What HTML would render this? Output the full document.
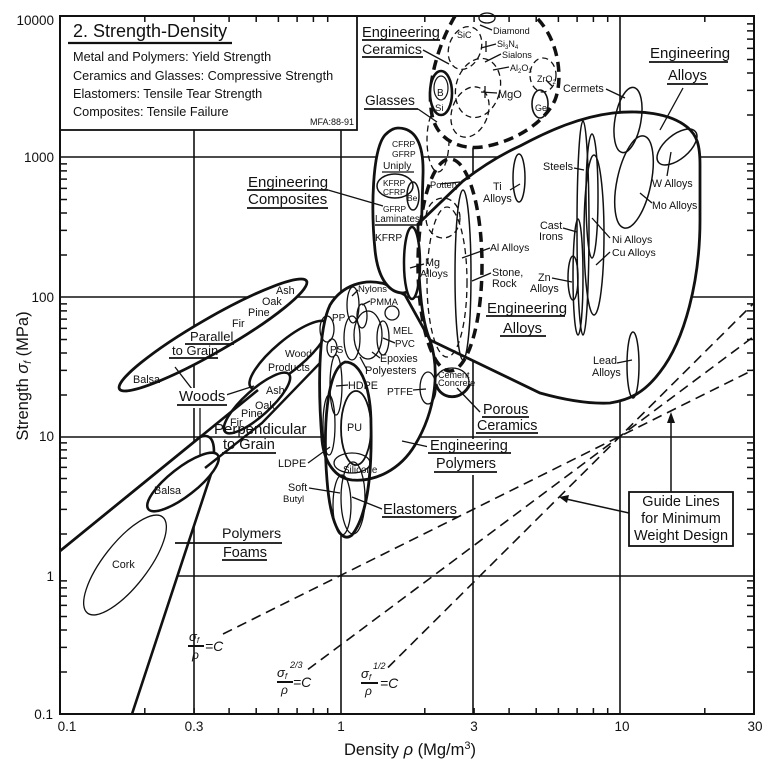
<!DOCTYPE html>
<html><head><meta charset="utf-8"><style>
html,body{margin:0;padding:0;background:#fff}
svg{display:block}
text{font-family:"Liberation Sans",Arial,sans-serif;fill:#111}
</style></head><body>
<svg width="773" height="771" viewBox="0 0 773 771" xmlns="http://www.w3.org/2000/svg">
<rect width="773" height="771" fill="#fff"/>
<g stroke="#111" fill="none">
 <!-- grid -->
 <g stroke-width="1.6">
  <line x1="194" y1="16" x2="194" y2="714"/>
  <line x1="341" y1="16" x2="341" y2="714"/>
  <line x1="473" y1="16" x2="473" y2="714"/>
  <line x1="620" y1="16" x2="620" y2="714"/>
  <line x1="60" y1="157" x2="754" y2="157"/>
  <line x1="60" y1="297" x2="754" y2="297"/>
  <line x1="60" y1="437" x2="754" y2="437"/>
  <line x1="60" y1="576" x2="754" y2="576"/>
 </g>
 <!-- title box -->
 <rect x="60" y="16" width="297" height="114" fill="#fff" stroke-width="1.8"/>

 <!-- foam envelope -->
 <path d="M60,551 L200,437 Q214,432 214,452 L213,468 L132,714 L60,714 Z" fill="#fff" stroke="none"/>
 <path d="M60,551 L200,437 Q214,432 214,452 L213,468 L132,714" stroke-width="2.6"/>
 <ellipse cx="125" cy="565" rx="61" ry="22" transform="rotate(-52 125 565)" stroke-width="1.3"/>

 <!-- woods -->
 <ellipse cx="213" cy="335" rx="108" ry="17" transform="rotate(-30 213 335)" fill="#fff" stroke-width="2.8"/>
 <ellipse cx="289" cy="355" rx="50" ry="15" transform="rotate(-40 289 355)" fill="#fff" stroke-width="2.5"/>
 <ellipse cx="257" cy="403" rx="43" ry="13" transform="rotate(-42 257 403)" fill="#fff" stroke-width="2.5"/>
 <ellipse cx="183" cy="482" rx="44" ry="14" transform="rotate(-38 183 482)" fill="#fff" stroke-width="2.5"/>
 <line x1="60" y1="551" x2="258" y2="390" stroke-width="2.6"/>
 <polyline points="205,468 262,423 320,363" stroke-width="2.4"/>
 <g stroke-width="1.3">
  <line x1="175" y1="367" x2="192" y2="389"/>
  <line x1="226" y1="395" x2="254" y2="386"/>
  <line x1="200" y1="407" x2="200" y2="456"/>
 </g>

 <!-- polymers & elastomers -->
 <path id="poly" d="M322,440 C318,390 318,330 330,305 C342,285 365,278 385,284 L405,295 L430,340 C440,370 436,410 415,445 C400,470 375,482 352,480 C335,478 324,462 322,440 Z" fill="#fff" stroke="none"/>
 <path d="M345,362 C362,362 371,390 371,425 C372,470 368,515 352,535 C340,545 330,520 327,480 C323,430 326,370 345,362 Z" fill="#fff" stroke="none"/>
 <path d="M322,440 C318,390 318,330 330,305 C342,285 365,278 385,284 L405,295 L430,340 C440,370 436,410 415,445 C400,470 375,482 352,480 C335,478 324,462 322,440 Z" stroke-width="2.8"/>
 <path d="M345,362 C362,362 371,390 371,425 C372,470 368,515 352,535 C340,545 330,520 327,480 C323,430 326,370 345,362 Z" stroke-width="2.8"/>
 <g stroke-width="1.3">
  <ellipse cx="356" cy="428" rx="15" ry="37" stroke-width="1.8"/>
  <ellipse cx="352" cy="463" rx="18" ry="10"/>
  <ellipse cx="329" cy="425" rx="6" ry="30"/>
  <ellipse cx="336" cy="385" rx="6" ry="30"/>
  <ellipse cx="342" cy="505" rx="9" ry="30"/>
  <ellipse cx="353" cy="498" rx="12" ry="36"/>
  <ellipse cx="327" cy="329" rx="7" ry="13"/>
  <ellipse cx="332" cy="348" rx="5" ry="9"/>
  <ellipse cx="353" cy="305" rx="6" ry="18"/>
  <ellipse cx="362" cy="316" rx="5" ry="12"/>
  <ellipse cx="368" cy="335" rx="14" ry="24"/>
  <ellipse cx="352" cy="338" rx="8" ry="22"/>
  <ellipse cx="383" cy="338" rx="6" ry="17"/>
  <circle cx="392" cy="313" r="7"/>
  <ellipse cx="428" cy="388" rx="8" ry="16"/>
  <ellipse cx="452" cy="382" rx="17" ry="14"/>
 </g>
 <path d="M436,384 C440,400 462,402 470,384" stroke-width="2.8"/>

 <!-- composites -->
 <path d="M398,128 C416,128 424,145 423,175 L421,240 C420,270 415,292 403,293 C390,293 378,280 375,250 C371,210 372,150 385,135 C390,130 394,128 398,128 Z" fill="#fff" stroke-width="2.8"/>
 <ellipse cx="395" cy="186" rx="18" ry="12" stroke-width="1.5"/>
 <ellipse cx="413" cy="196" rx="6" ry="14" stroke-width="1.5"/>
 <line x1="382" y1="172" x2="414" y2="172" stroke-width="1.3"/>

 <!-- alloys -->
 <path d="M418,224 L463,181 C480,168 500,155 520,146 C550,130 580,117 613,113 C640,110 670,113 687,127 C697,135 700,145 700,165 L700,220 C700,280 685,340 660,372 C645,392 630,400 610,403 C590,404 565,400 540,393 L430,340 C421,320 418,280 418,224 Z" fill="#fff" stroke-width="2.8"/>
 <ellipse cx="412" cy="263" rx="8" ry="36" fill="#fff" stroke-width="2.5"/>
 <g stroke-width="1.5">
  <ellipse cx="519" cy="178" rx="6" ry="24"/>
  <ellipse cx="583" cy="228" rx="6" ry="107"/>
  <ellipse cx="592" cy="196" rx="6" ry="62"/>
  <ellipse cx="594" cy="235" rx="10" ry="80"/>
  <ellipse cx="578" cy="277" rx="5" ry="58"/>
  <ellipse cx="573" cy="278" rx="5" ry="22"/>
  <ellipse cx="628" cy="120" rx="13" ry="33" transform="rotate(10 628 120)"/>
  <ellipse cx="634" cy="182" rx="17" ry="47" transform="rotate(12 634 182)"/>
  <ellipse cx="677" cy="147" rx="24" ry="12" transform="rotate(-40 677 147)"/>
  <ellipse cx="633" cy="365" rx="6" ry="33"/>
  <ellipse cx="463" cy="275" rx="8" ry="85"/>
 </g>
 <!-- porous ceramics -->
 <ellipse cx="450" cy="265" rx="32" ry="106" stroke-width="3.5" stroke-dasharray="10 6"/>
 <g stroke-width="1.3" stroke-dasharray="6 4">
  <ellipse cx="447" cy="282" rx="20" ry="75"/>
  <ellipse cx="443" cy="218" rx="17" ry="20"/>
  <ellipse cx="438" cy="140" rx="11" ry="32"/>
 </g>

 <!-- ceramics -->
 <path d="M455,16 C438,45 426,85 432,115 C437,140 460,150 482,147 C515,142 545,122 555,100 C563,80 560,40 535,16 Z" fill="#fff" stroke="none"/>
 <path d="M455,16 C438,45 426,85 432,115 C437,140 460,150 482,147 C515,142 545,122 555,100 C563,80 560,40 535,16" stroke-width="3.5" stroke-dasharray="10 6"/>
 <g stroke-width="1.3" stroke-dasharray="6 4">
  <ellipse cx="465" cy="48" rx="16" ry="22" transform="rotate(20 465 48)"/>
  <ellipse cx="478" cy="88" rx="22" ry="30" transform="rotate(15 478 88)"/>
  <ellipse cx="470" cy="112" rx="18" ry="26" transform="rotate(20 470 112)"/>
  <ellipse cx="543" cy="75" rx="13" ry="17"/>
 </g>
 <ellipse cx="487" cy="18" rx="8" ry="5" stroke-width="1.3"/>
 <ellipse cx="540" cy="104" rx="8" ry="14" stroke-width="1.6"/>
 <ellipse cx="441" cy="93" rx="11" ry="22" fill="#fff" stroke-width="2.6"/>
 <ellipse cx="441" cy="88" rx="7" ry="12" stroke-width="1.2"/>

 <!-- guide lines -->
 <g stroke-width="1.6" stroke-dasharray="10 6">
  <line x1="223" y1="634" x2="754" y2="369.5"/>
  <line x1="308" y1="669.4" x2="754" y2="336.3"/>
  <line x1="388" y1="667.5" x2="754" y2="303"/>
 </g>

 <!-- pointers -->
 <g stroke-width="1.3">
  <line x1="683" y1="88" x2="660" y2="130"/>
  <line x1="423" y1="50" x2="449" y2="64"/>
  <line x1="418" y1="109" x2="437" y2="122"/>
  <line x1="492" y1="30" x2="480" y2="25"/>
  <line x1="496" y1="44" x2="481" y2="48"/><line x1="486" y1="41" x2="486" y2="52"/>
  <line x1="501" y1="54" x2="485" y2="62"/>
  <line x1="509" y1="67" x2="493" y2="70"/>
  <line x1="546" y1="80" x2="552" y2="86"/>
  <line x1="497" y1="93" x2="481" y2="92"/><line x1="485" y1="86" x2="485" y2="98"/>
  <line x1="606" y1="89" x2="625" y2="98"/>
  <line x1="574" y1="168" x2="584" y2="170"/>
  <line x1="510" y1="190" x2="520" y2="184"/>
  <line x1="563" y1="228" x2="577" y2="232"/>
  <line x1="552" y1="278" x2="572" y2="282"/>
  <line x1="610" y1="238" x2="592" y2="218"/>
  <line x1="610" y1="252" x2="596" y2="265"/>
  <line x1="652" y1="203" x2="640" y2="193"/>
  <line x1="667" y1="176" x2="671" y2="152"/>
  <line x1="617" y1="363" x2="632" y2="360"/>
  <line x1="462" y1="258" x2="490" y2="248"/>
  <line x1="472" y1="281" x2="491" y2="273"/>
  <line x1="410" y1="268" x2="424" y2="264"/>
  <line x1="413" y1="390" x2="426" y2="389"/>
  <line x1="480" y1="412" x2="457" y2="388"/>
  <line x1="429" y1="447" x2="402" y2="441"/>
  <line x1="382" y1="509" x2="352" y2="497"/>
  <line x1="309" y1="488" x2="340" y2="493"/>
  <line x1="308" y1="463" x2="330" y2="447"/>
  <line x1="348" y1="385" x2="336" y2="386"/>
  <line x1="395" y1="343" x2="383" y2="338"/>
  <line x1="380" y1="358" x2="372" y2="352"/>
  <line x1="367" y1="370" x2="360" y2="357"/>
  <line x1="358" y1="290" x2="352" y2="296"/>
  <line x1="370" y1="301" x2="362" y2="305"/>
  <line x1="328" y1="190" x2="383" y2="206"/>
  <line x1="440" y1="184" x2="460" y2="182"/>
 </g>
 <!-- guide box + arrows -->
 <rect x="629" y="492" width="104" height="54" fill="#fff" stroke-width="1.8"/>
 <line x1="629" y1="513" x2="566" y2="499" stroke-width="1.5"/>
 <polygon points="559,497 569,495 567,503" fill="#111" stroke="none"/>
 <line x1="671" y1="492" x2="671" y2="420" stroke-width="1.5"/>
 <polygon points="671,412 667,423 675,423" fill="#111" stroke="none"/>

 <!-- label backgrounds -->
 <rect x="177" y="388" width="50" height="20" fill="#fff" stroke="none"/>
 <rect x="427" y="439" width="86" height="36" fill="#fff" stroke="none"/>
</g>

<!-- underlines -->
<g stroke="#111" stroke-width="1.8">
 <line x1="68" y1="43" x2="232" y2="43" stroke-width="2.2"/>
 <line x1="362" y1="40" x2="440" y2="40"/>
 <line x1="362" y1="57" x2="423" y2="57"/>
 <line x1="364" y1="109" x2="418" y2="109"/>
 <line x1="649" y1="62" x2="728" y2="62"/>
 <line x1="667" y1="84" x2="708" y2="84"/>
 <line x1="247" y1="190" x2="328" y2="190"/>
 <line x1="247" y1="208" x2="328" y2="208"/>
 <line x1="486" y1="316" x2="565" y2="316"/>
 <line x1="500" y1="336" x2="546" y2="336"/>
 <line x1="185" y1="344" x2="234" y2="344"/>
 <line x1="169" y1="358" x2="218" y2="358"/>
 <line x1="177" y1="405" x2="227" y2="405"/>
 <line x1="222" y1="453" x2="276" y2="453"/>
 <line x1="482" y1="417" x2="529" y2="417"/>
 <line x1="476" y1="433" x2="538" y2="433"/>
 <line x1="428" y1="453" x2="511" y2="453"/>
 <line x1="434" y1="472" x2="497" y2="472"/>
 <line x1="175" y1="543" x2="282" y2="543"/>
 <line x1="222" y1="560" x2="267" y2="560"/>
 <line x1="382" y1="517" x2="458" y2="517"/>
 <line x1="375" y1="225" x2="420" y2="225" stroke-width="1.4"/>
 <line x1="188" y1="646" x2="204" y2="646" stroke-width="2"/>
 <line x1="277" y1="682" x2="293" y2="682" stroke-width="2"/>
 <line x1="361" y1="683" x2="378" y2="683" stroke-width="2"/>
</g>

<!-- title box text -->
<text x="73" y="37" font-size="18">2. Strength-Density</text>
<g font-size="12.7">
 <text x="73" y="61">Metal and Polymers: Yield Strength</text>
 <text x="73" y="80">Ceramics and Glasses: Compressive Strength</text>
 <text x="73" y="98">Elastomers: Tensile Tear Strength</text>
 <text x="73" y="116">Composites: Tensile Failure</text>
</g>
<text x="354" y="125" font-size="9" text-anchor="end">MFA:88-91</text>

<!-- big labels -->
<g font-size="15">
 <text x="362" y="37" font-size="14.6">Engineering</text>
 <text x="362" y="54" font-size="14.2">Ceramics</text>
 <text x="365" y="105" font-size="13.8">Glasses</text>
 <text x="650" y="58">Engineering</text>
 <text x="668" y="80" font-size="14.6">Alloys</text>
 <text x="248" y="187">Engineering</text>
 <text x="248" y="204">Composites</text>
 <text x="487" y="313">Engineering</text>
 <text x="503" y="333" font-size="14.6">Alloys</text>
 <text x="190" y="341" font-size="13">Parallel</text>
 <text x="172" y="355" font-size="13">to Grain</text>
 <text x="179" y="401">Woods</text>
 <text x="214" y="434">Perpendicular</text>
 <text x="223" y="449" font-size="14.6">to Grain</text>
 <text x="483" y="414" font-size="14.3">Porous</text>
 <text x="477" y="430" font-size="14.3">Ceramics</text>
 <text x="430" y="450" font-size="14.6">Engineering</text>
 <text x="436" y="468" font-size="14.4">Polymers</text>
 <text x="222" y="538" font-size="14.2">Polymers</text>
 <text x="223" y="557" font-size="14.4">Foams</text>
 <text x="383" y="514" font-size="14.8">Elastomers</text>
</g>

<!-- small labels -->
<g font-size="10.8">
 <text x="276" y="294">Ash</text>
 <text x="262" y="305">Oak</text>
 <text x="248" y="316">Pine</text>
 <text x="232" y="327">Fir</text>
 <text x="133" y="383">Balsa</text>
 <text x="285" y="357" font-size="10.4">Wood</text>
 <text x="268" y="371" font-size="10.6">Products</text>
 <text x="266" y="394">Ash</text>
 <text x="255" y="409">Oak</text>
 <text x="241" y="417">Pine</text>
 <text x="230" y="426">Fir</text>
 <text x="154" y="494">Balsa</text>
 <text x="112" y="568">Cork</text>
 <text x="593" y="364">Lead</text>
 <text x="592" y="376">Alloys</text>
 <text x="563" y="92">Cermets</text>
 <text x="543" y="170">Steels</text>
 <text x="493" y="190">Ti</text>
 <text x="483" y="202">Alloys</text>
 <text x="540" y="229">Cast</text>
 <text x="539" y="240">Irons</text>
 <text x="538" y="281">Zn</text>
 <text x="530" y="292">Alloys</text>
 <text x="612" y="243" font-size="10.5">Ni Alloys</text>
 <text x="612" y="256" font-size="10.5">Cu Alloys</text>
 <text x="652" y="209" font-size="10.6">Mo Alloys</text>
 <text x="652" y="187" font-size="10.6">W Alloys</text>
 <text x="490" y="251" font-size="10.4">Al Alloys</text>
 <text x="492" y="276">Stone,</text>
 <text x="492" y="287">Rock</text>
 <text x="425" y="266">Mg</text>
 <text x="420" y="277" font-size="10.5">Alloys</text>
 <text x="430" y="188" font-size="9.3">Pottery</text>
 <text x="438" y="378" font-size="9">Cement</text>
 <text x="438" y="386" font-size="9.2">Concrete</text>
 <text x="387" y="395" font-size="10.2">PTFE</text>
 <text x="348" y="389">HDPE</text>
 <text x="347" y="431">PU</text>
 <text x="343" y="473" font-size="9.8">Silicone</text>
 <text x="278" y="467">LDPE</text>
 <text x="288" y="491">Soft</text>
 <text x="283" y="502" font-size="9.5">Butyl</text>
 <text x="332" y="321" font-size="10">PP</text>
 <text x="330" y="353" font-size="10">PS</text>
 <text x="358" y="292" font-size="9.5">Nylons</text>
 <text x="370" y="305" font-size="9.3">PMMA</text>
 <text x="393" y="334" font-size="9.7">MEL</text>
 <text x="395" y="347" font-size="9.7">PVC</text>
 <text x="380" y="362" font-size="10.6">Epoxies</text>
 <text x="365" y="374" font-size="11">Polyesters</text>
 <text x="392" y="147" font-size="8.5">CFRP</text>
 <text x="392" y="157" font-size="8.5">GFRP</text>
 <text x="383" y="169" font-size="10.2">Uniply</text>
 <text x="383" y="186" font-size="8.3">KFRP</text>
 <text x="383" y="195" font-size="8.3">CFRP</text>
 <text x="407" y="201" font-size="8.5">Be</text>
 <text x="383" y="212" font-size="8.3">GFRP</text>
 <text x="375" y="222" font-size="9.7">Laminates</text>
 <text x="375" y="241" font-size="10.2">KFRP</text>
 <text x="493" y="34" font-size="9.2">Diamond</text>
 <text x="457" y="38" font-size="9">SiC</text>
 <text x="497" y="47" font-size="9">Si<tspan font-size="6" dy="2">3</tspan><tspan dy="-2">N</tspan><tspan font-size="6" dy="2">4</tspan></text>
 <text x="502" y="58" font-size="9.1">Sialons</text>
 <text x="510" y="71" font-size="9">Al<tspan font-size="6" dy="2">2</tspan><tspan dy="-2">O</tspan><tspan font-size="6" dy="2">3</tspan></text>
 <text x="537" y="82" font-size="9">ZrO<tspan font-size="6" dy="2">2</tspan></text>
 <text x="498" y="98" font-size="11">MgO</text>
 <text x="535" y="111" font-size="9">Ge</text>
 <text x="437" y="96" font-size="10">B</text>
 <text x="435" y="111" font-size="9.5">Si</text>
</g>

<!-- guide labels -->
<g font-size="14.5" text-anchor="middle">
 <text x="681" y="506">Guide Lines</text>
 <text x="681" y="523">for Minimum</text>
 <text x="681" y="540">Weight Design</text>
</g>
<g font-style="italic">
 <text x="189" y="641" font-size="13">σ<tspan font-size="8" dy="2">f</tspan></text>
 <text x="192" y="659" font-size="12">ρ</text>
 <text x="205" y="651" font-size="14">=C</text>
 <text x="277" y="677" font-size="13">σ<tspan font-size="8" dy="2">f</tspan></text>
 <text x="290" y="668" font-size="9">2/3</text>
 <text x="281" y="694" font-size="12">ρ</text>
 <text x="293" y="687" font-size="14">=C</text>
 <text x="361" y="678" font-size="13">σ<tspan font-size="8" dy="2">f</tspan></text>
 <text x="373" y="669" font-size="9">1/2</text>
 <text x="365" y="695" font-size="12">ρ</text>
 <text x="380" y="688" font-size="14">=C</text>
</g>

<!-- frame & ticks -->
<g stroke="#111" fill="none">
 <rect x="60" y="16" width="694" height="698" stroke-width="2"/>
 <path stroke-width="1.5" d="
 M144.8,714v-6M194.1,714v-6M229.1,714v-6M256.2,714v-6M278.4,714v-6M297.1,714v-6M313.4,714v-6M327.7,714v-6
 M424.8,714v-6M474.1,714v-6M509.1,714v-6M536.2,714v-6M558.4,714v-6M577.1,714v-6M593.4,714v-6M607.7,714v-6M704.8,714v-6
 M144.8,16v6M194.1,16v6M229.1,16v6M256.2,16v6M278.4,16v6M297.1,16v6M313.4,16v6M327.7,16v6
 M424.8,16v6M474.1,16v6M509.1,16v6M536.2,16v6M558.4,16v6M577.1,16v6M593.4,16v6M607.7,16v6M704.8,16v6
 M60,672h7M60,647.4h7M60,630h7M60,616.5h7M60,605.4h7M60,596.1h7M60,587.9h7M60,580.9h7
 M60,534h7M60,509.4h7M60,492h7M60,478.5h7M60,467.4h7M60,458.1h7M60,449.9h7M60,442.9h7
 M60,395h7M60,370.4h7M60,353h7M60,339.5h7M60,328.4h7M60,319.1h7M60,310.9h7M60,303.9h7
 M60,255h7M60,230.4h7M60,213h7M60,199.5h7M60,188.4h7M60,179.1h7M60,170.9h7M60,163.9h7
 M754,672h-7M754,647.4h-7M754,630h-7M754,616.5h-7M754,605.4h-7M754,596.1h-7M754,587.9h-7M754,580.9h-7
 M754,534h-7M754,509.4h-7M754,492h-7M754,478.5h-7M754,467.4h-7M754,458.1h-7M754,449.9h-7M754,442.9h-7
 M754,395h-7M754,370.4h-7M754,353h-7M754,339.5h-7M754,328.4h-7M754,319.1h-7M754,310.9h-7M754,303.9h-7
 M754,255h-7M754,230.4h-7M754,213h-7M754,199.5h-7M754,188.4h-7M754,179.1h-7M754,170.9h-7M754,163.9h-7
 M754,115h-7M754,90.4h-7M754,73h-7M754,59.5h-7M754,48.4h-7M754,39.1h-7M754,30.9h-7M754,23.9h-7"/>
</g>

<!-- axis labels -->
<g font-size="13.5">
 <g text-anchor="end">
  <text x="54" y="25">10000</text>
  <text x="54" y="162">1000</text>
  <text x="54" y="302">100</text>
  <text x="54" y="441">10</text>
  <text x="54" y="581">1</text>
  <text x="53" y="719">0.1</text>
 </g>
 <g text-anchor="middle">
  <text x="67" y="731">0.1</text>
  <text x="194" y="731">0.3</text>
  <text x="341" y="731">1</text>
  <text x="474" y="731">3</text>
  <text x="622" y="731">10</text>
  <text x="755" y="731">30</text>
 </g>
</g>
<text x="410" y="755" font-size="16.5" text-anchor="middle">Density <tspan font-style="italic">ρ</tspan> (Mg/m<tspan font-size="11" dy="-6">3</tspan><tspan dy="6">)</tspan></text>
<text x="0" y="0" font-size="16.5" text-anchor="middle" transform="translate(28 376) rotate(-90)">Strength <tspan font-style="italic">σ</tspan><tspan font-size="10" font-style="italic" dy="3">f</tspan><tspan dy="-3"> (MPa)</tspan></text>
</svg>
</body></html>
